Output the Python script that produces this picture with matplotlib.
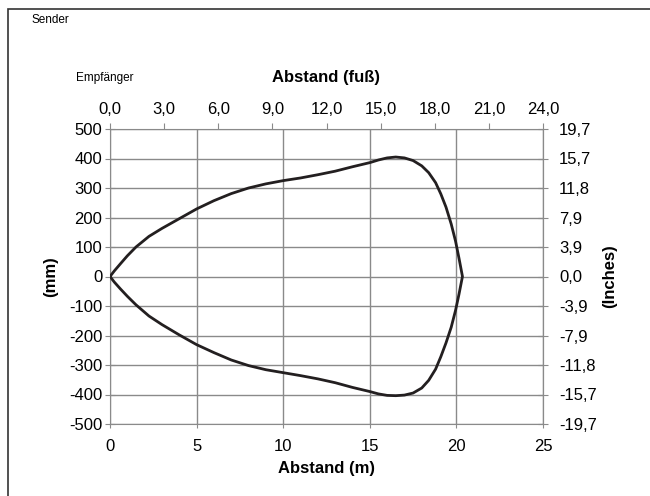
import matplotlib
matplotlib.use("Agg")
import matplotlib.pyplot as plt
from matplotlib.patches import Rectangle

plt.rcParams['font.family'] = ['Liberation Sans', 'DejaVu Sans']
plt.rcParams['axes.unicode_minus'] = False

# beam contour (distance in m, lateral offset in mm)
dist_m = [0, 0.25, 0.6, 1.0, 1.5, 2.25, 3, 4, 5, 6, 7, 8, 9, 10, 11, 12, 13, 14,
          15, 15.5, 16, 16.5, 17, 17.5, 18, 18.4, 18.8, 19.1, 19.4, 19.7, 19.95,
          20.15, 20.35]
upper_mm = [0, 19, 43, 70, 100, 136, 163, 196, 229, 257, 281, 300, 314, 325, 334,
            345, 357, 372, 386, 395, 402, 405, 402, 393, 375, 352, 318, 280, 235,
            178, 120, 62, 0]
lower_mm = [0, -19, -42, -67, -96, -134, -163, -198, -231, -258, -283, -302, -316,
            -326, -336, -347, -360, -376, -390, -398, -403, -404, -402, -395, -378,
            -352, -314, -272, -225, -172, -115, -60, 0]

x_ticks = [0, 5, 10, 15, 20, 25]
mm_ticks = [500, 400, 300, 200, 100, 0, -100, -200, -300, -400, -500]
ft_ticks = [0, 3, 6, 9, 12, 15, 18, 21, 24]
ft_labels = ['0,0', '3,0', '6,0', '9,0', '12,0', '15,0', '18,0', '21,0', '24,0']
inch_labels = ['19,7', '15,7', '11,8', '7,9', '3,9', '0,0', '-3,9', '-7,9',
               '-11,8', '-15,7', '-19,7']

grid_c = '#8a8a8a'
fig = plt.figure(figsize=(6.5, 4.96), dpi=100)
ax = fig.add_axes([110/650, 1 - 424/496, 433/650, 295/496])

x_line = dist_m + dist_m[::-1]
y_line = upper_mm + lower_mm[::-1]
ax.plot(x_line, y_line, color='#231f20', lw=2.0, zorder=3, solid_joinstyle='round')

ax.set_xlim(0, 25)
ax.set_ylim(-500, 500)
ax.set_xticks(x_ticks)
ax.set_yticks(mm_ticks)
ax.grid(True, color=grid_c, lw=1.0)
for s in ax.spines.values():
    s.set_color(grid_c)
ax.tick_params(axis='y', direction='inout', length=7, color=grid_c, labelsize=12, pad=2)
ax.tick_params(axis='x', direction='out', length=3, color=grid_c, labelsize=12, pad=8)
ax.set_xlabel('Abstand (m)', fontsize=12, fontweight='bold', labelpad=5)
ax.set_ylabel('(mm)', fontsize=12, fontweight='bold', labelpad=8)

top = ax.twiny()
top.set_xlim(0, 24)
top.set_xticks(ft_ticks)
top.set_xticklabels(ft_labels)
top.tick_params(axis='x', direction='out', length=4, color=grid_c, labelsize=12, pad=5)
top.set_xlabel('Abstand (fuß)', fontsize=12, fontweight='bold', labelpad=14)
for s in top.spines.values():
    s.set_visible(False)

right = ax.secondary_yaxis('right')
right.set_yticks(mm_ticks)
right.set_yticklabels(inch_labels)
right.tick_params(axis='y', direction='inout', length=7, color=grid_c, labelsize=12, pad=8)
right.spines['right'].set_color(grid_c)
right.set_ylabel('(Inches)', fontsize=12, fontweight='bold', labelpad=4)

fig.text(31/650, 1 - 20/496, 'Sender', fontsize=8.5, va='center', ha='left')
fig.text(76/650, 1 - 78/496, 'Empfänger', fontsize=8.5, va='center', ha='left')

fig.patches.append(Rectangle((8/650, -0.1), 1.2, 1.1 - 9/496, transform=fig.transFigure,
                             fill=False, edgecolor='#333333', lw=1.2))

fig.savefig('out.png', dpi=100)
